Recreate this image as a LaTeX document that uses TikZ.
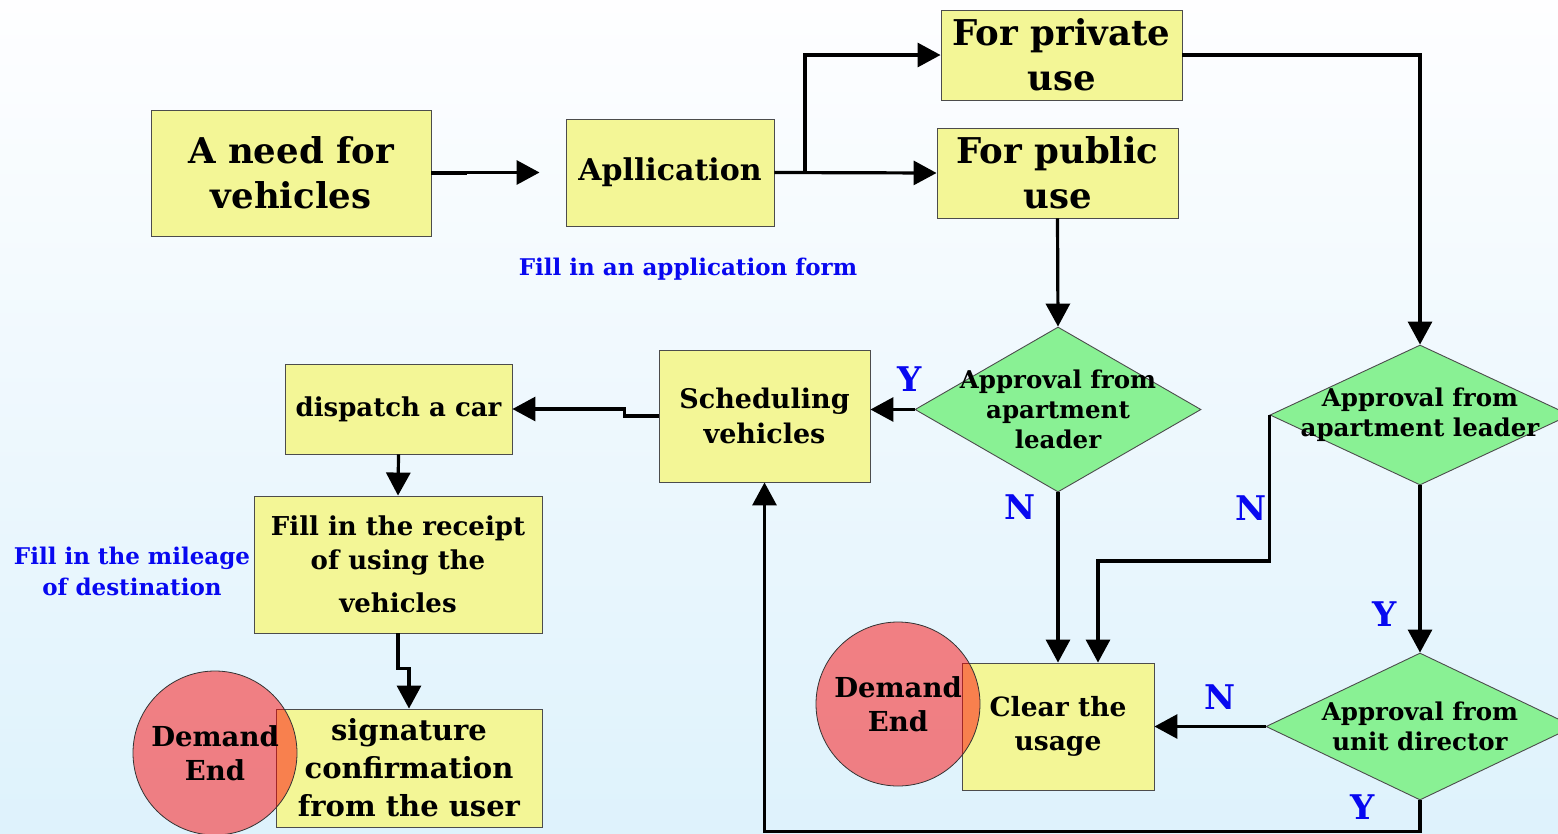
\documentclass[tikz,border=0pt]{standalone}
\usepackage{fontspec}
\setmainfont{DejaVu Serif}
\usetikzlibrary{arrows.meta,shapes.geometric}

\definecolor{boxyellow}{RGB}{243,246,150}
\definecolor{diagreen}{RGB}{137,241,148}
\definecolor{skytop}{RGB}{254,254,255}
\definecolor{skybot}{RGB}{222,242,252}
\definecolor{noteblue}{RGB}{8,8,240}

\begin{document}
\begin{tikzpicture}[x=1pt,y=-1pt]
		\tikzset{box/.style = {shape=rectangle, draw=black!70, line width=0.9pt, fill=boxyellow, inner sep=0pt, align=center, font=\bfseries}}
		\tikzset{choice/.style = {shape=diamond, draw=black!70, line width=0.9pt, fill=diagreen, inner sep=0pt}}
		\tikzset{demandend/.style = {shape=circle, draw=black!80, line width=0.8pt, fill=red, fill opacity=0.48, text opacity=1, inner sep=0pt, minimum size=164pt, align=center}}
		\tikzset{flow/.style = {line width=3.2pt, -{Triangle[length=23pt,width=24pt]}}}
		\tikzset{note/.style = {text=noteblue, font=\fontsize{23}{31}\selectfont\bfseries, align=center}}
		\tikzset{answer/.style = {text=noteblue, font=\fontsize{34}{34}\selectfont\bfseries}}

		\clip (0,0) rectangle (1558,833);
		\shade[top color=skytop, bottom color=skybot] (0,0) rectangle (1558,833);

		\node[box, minimum width=280pt, minimum height=126pt, font=\fontsize{35.5}{45}\selectfont\bfseries] (need) at (291,173) {A need for\\vehicles};
		\node[box, minimum width=208pt, minimum height=107pt, font=\fontsize{30}{35}\selectfont\bfseries] (app) at (670,172.5) {Apllication};
		\node[box, minimum width=241pt, minimum height=90pt, font=\fontsize{35.5}{45}\selectfont\bfseries] (private) at (1061.5,55) {For private\\use};
		\node[box, minimum width=241pt, minimum height=90pt, font=\fontsize{35.5}{45}\selectfont\bfseries] (public) at (1057.5,173) {For public\\use};
		\node[note] (formnote) at (688,269) {Fill in an application form};

		\node[choice, minimum width=286pt, minimum height=165pt, label={[font=\fontsize{24.5}{30}\selectfont\bfseries, align=center]center:Approval from\\apartment\\leader}] (dia1) at (1058,409.5) {};
		\node[choice, minimum width=300pt, minimum height=140pt, label={[font=\fontsize{24.5}{30}\selectfont\bfseries, align=center]center:Approval from\\apartment leader}] (dia2) at (1420,415) {};
		\node[choice, minimum width=308pt, minimum height=147pt, label={[font=\fontsize{24.5}{30}\selectfont\bfseries, align=center]center:Approval from\\unit director}] (dia3) at (1420,726.5) {};

		\node[box, minimum width=211pt, minimum height=132pt, font=\fontsize{27}{35}\selectfont\bfseries] (sched) at (764.5,416) {Scheduling\\vehicles};
		\node[box, minimum width=227pt, minimum height=90pt, font=\fontsize{26}{35}\selectfont\bfseries] (dispatch) at (398.5,409) {dispatch a car};
		\node[box, minimum width=288pt, minimum height=137pt, font=\fontsize{26}{34}\selectfont\bfseries] (receipt) at (398,564.5) {Fill in the receipt\\of using the\\[9pt]vehicles};
		\node[note] (milenote) at (132,571) {Fill in the mileage\\of destination};
		\node[box, minimum width=266pt, minimum height=118pt, font=\fontsize{29}{38}\selectfont\bfseries] (sig) at (409,768) {signature\\confirmation\\from the user};
		\node[box, minimum width=192pt, minimum height=127pt, font=\fontsize{26.5}{34}\selectfont\bfseries] (clear) at (1058,726.5) {Clear the\\usage};

		\node[demandend, font=\fontsize{27.5}{34}\selectfont\bfseries] (endA) at (215,753) {Demand\\End};
		\node[demandend, font=\fontsize{27.5}{34}\selectfont\bfseries] (endB) at (898,704) {Demand\\End};

		\coordinate (split) at (805,172.5);

		\draw[flow, shorten >=26pt] (need.east) -- ++(34,0) |- (app.west);
		\draw[flow] (app.east) -- (public.west);
		\draw[flow] (split) |- (private.west);
		\draw[flow] (private.east) -| (dia2.north);
		\draw[flow] (public.south) -- (dia1.north);
		\draw[flow] (dia1.west) -- (sched.east |- dia1.west);
		\draw[flow] (sched.west) -- ++(-34,0) |- (dispatch.east);
		\draw[flow] (dispatch.south) -- (receipt.north);
		\draw[flow] (receipt.south) -- ++(0,35) -| (sig.north);
		\draw[flow] (dia1.south) -- (clear.north);
		\draw[flow] (dia2.west) -- ++(0,146) -| ([xshift=40pt]clear.north);
		\draw[flow] (dia2.south) -- (dia3.north);
		\draw[flow] (dia3.west) -- (clear.east);
		\draw[flow] (dia3.south) -- ++(0,31) -| (sched.south);

		\node[answer] (y1) at (910,379) {Y};
		\node[answer] (n1) at (1020,507) {N};
		\node[answer] (n2) at (1251,508) {N};
		\node[answer] (y2) at (1385,614) {Y};
		\node[answer] (n3) at (1220,697) {N};
		\node[answer] (y3) at (1363,807) {Y};

\end{tikzpicture}
\end{document}
